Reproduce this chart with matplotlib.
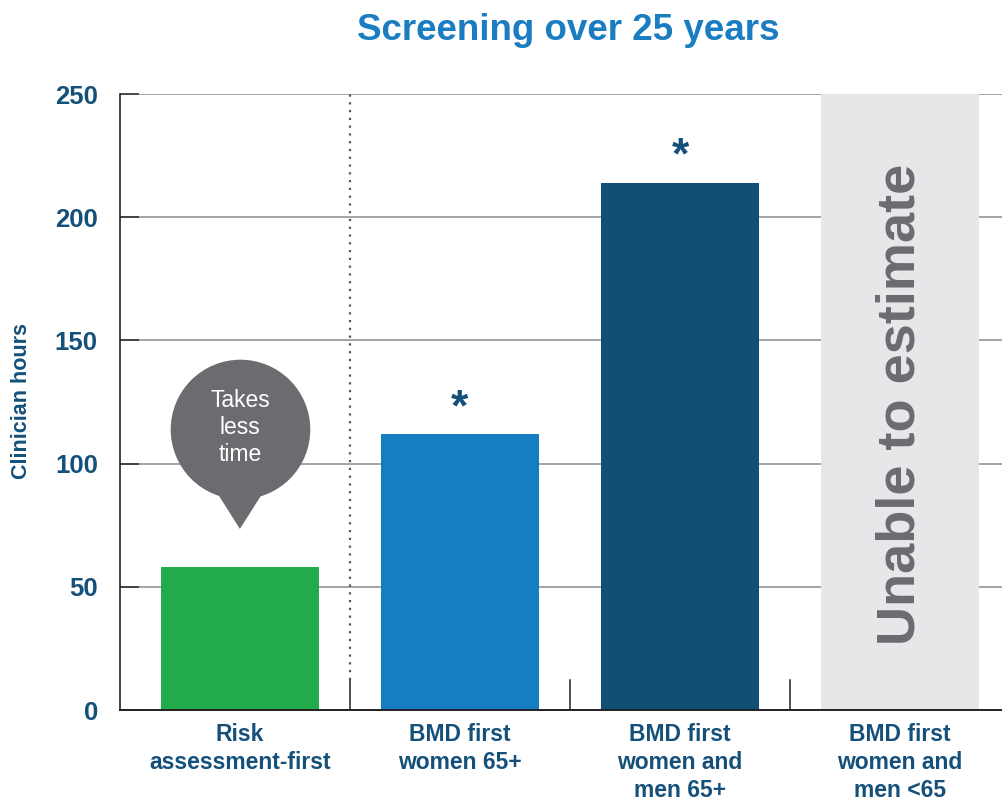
import matplotlib.pyplot as plt

categories = ["Risk\nassessment-first", "BMD first\nwomen 65+",
              "BMD first\nwomen and\nmen 65+", "BMD first\nwomen and\nmen <65"]
hours = [58, 112, 214]
starred = [False, True, True]
bar_colors = ["#22aa4b", "#157dc2", "#114f75"]
yticks = [0, 50, 100, 150, 200, 250]

navy = "#14507a"
gray = "#6b6c70"

plt.rcParams['font.family'] = ['Liberation Sans', 'DejaVu Sans']

fig = plt.figure(figsize=(10.03, 8.05), dpi=100)
ax = fig.add_axes([120 / 1003, 1 - 710 / 805, 1 - 120 / 1003, 616 / 805])
ax.set_xlim(-0.545, 3.468)
ax.set_ylim(0, 250)

for y in yticks[1:]:
    ax.axhline(y, color="#8c8c8c", lw=1.1, zorder=0)

x = list(range(len(hours)))
ax.bar(x, hours, width=0.72, color=bar_colors, zorder=2)
# last scenario has no estimate: grey band over the full range
ax.bar(3, yticks[-1], width=0.72, color="#e6e7e8", zorder=1)
ax.text(3, 124, "Unable to estimate", rotation=90, ha="center", va="center",
        color=gray, fontsize=39, fontweight="bold", zorder=3)

for xi, h, s in zip(x, hours, starred):
    if s:
        ax.text(xi, h + 2, "*", ha="center", va="bottom", color=navy,
                fontsize=32, fontweight="bold")

# separators between categories
for sx in [0.5, 1.5, 2.5]:
    ax.plot([sx, sx], [0, 12], color="#222222", lw=1.1, zorder=3)
ax.plot([0.5, 0.5], [12, 250], color="#555555", lw=1.6, ls=(0, (1, 2.5)), zorder=3)

# speech bubble
ax.scatter([0], [114], s=10100, color=gray, zorder=4, linewidths=0)
ax.fill([-0.11, 0.11, 0], [89, 89, 73.5], color=gray, zorder=4, lw=0)
ax.text(0, 114.5, "Takes\nless\ntime", ha="center", va="center", color="white",
        fontsize=16.5, linespacing=1.22, zorder=5)

ax.set_xticks(range(len(categories)))
ax.set_xticklabels(categories, color=navy, fontsize=16.5, fontweight="bold",
                   linespacing=1.3, va="top")
ax.tick_params(axis="x", length=0, pad=9)
ax.set_yticks(yticks)
ax.set_yticklabels([str(v) for v in yticks], color=navy, fontsize=18.5, fontweight="bold")
ax.tick_params(axis="y", direction="in", length=14, width=1.2, color="#333333", pad=16)

for side in ["top", "right"]:
    ax.spines[side].set_visible(False)
ax.spines["left"].set_color("#222222")
ax.spines["bottom"].set_color("#222222")
ax.spines["left"].set_linewidth(1.2)
ax.spines["bottom"].set_linewidth(1.4)

fig.text(22 / 1003, 1 - 401 / 805, "Clinician hours", rotation=90, ha="center",
         va="center", color=navy, fontsize=15.5, fontweight="bold",
         family=["Liberation Sans Narrow", "Liberation Sans", "DejaVu Sans"])
fig.text(568 / 1003, 1 - 30 / 805, "Screening over 25 years", ha="center",
         va="center", color="#1a7cc1", fontsize=26.5, fontweight="bold")

fig.savefig("out.png", dpi=100)
